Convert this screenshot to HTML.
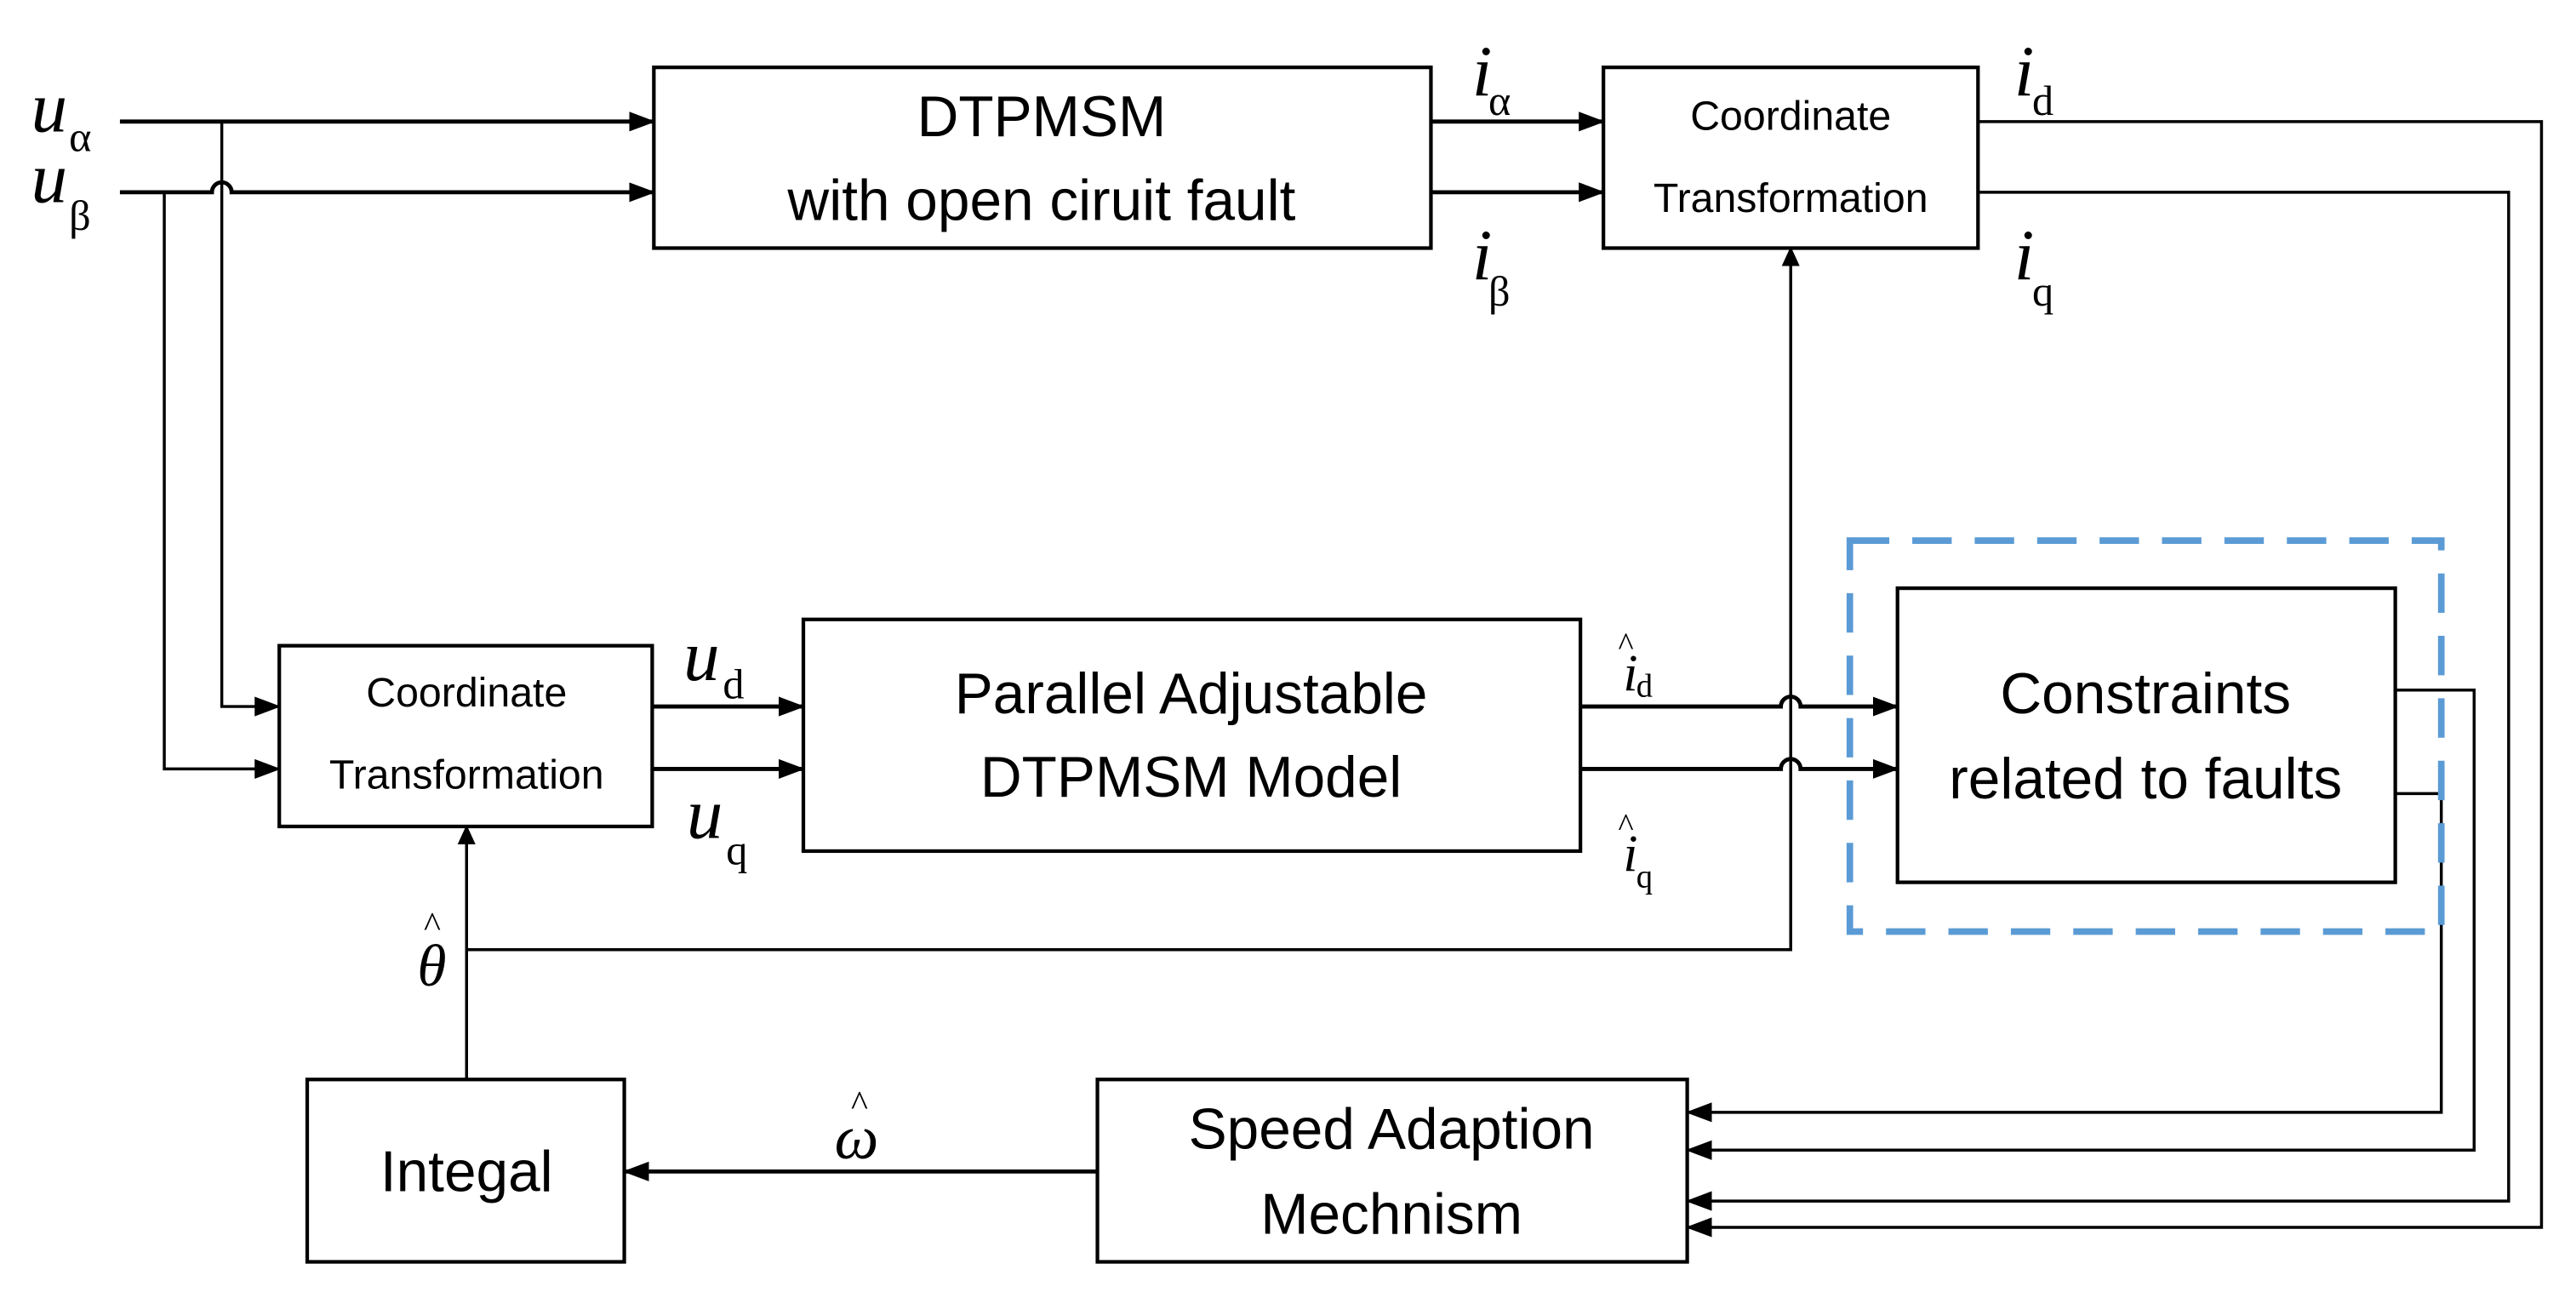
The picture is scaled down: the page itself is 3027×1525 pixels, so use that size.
<!DOCTYPE html>
<html><head><meta charset="utf-8"><style>
html,body{margin:0;padding:0;background:#fff;}
svg{display:block;}
.t{font-family:"Liberation Sans",sans-serif;fill:#000;text-anchor:middle;}
.m{font-family:"Liberation Serif",serif;font-style:italic;fill:#000;}
.s{font-family:"Liberation Serif",serif;fill:#000;}
</style></head><body>
<svg width="3027" height="1525" viewBox="0 0 1568 790" preserveAspectRatio="none" xmlns="http://www.w3.org/2000/svg">
<defs>
<marker id="a" markerWidth="16" markerHeight="14" refX="15" refY="7" orient="auto" markerUnits="userSpaceOnUse">
<path d="M0,1 L16,7 L0,13 z" fill="#000"/></marker>
<marker id="b" markerWidth="12" markerHeight="12" refX="11" refY="6" orient="auto" markerUnits="userSpaceOnUse">
<path d="M0,0.5 L12,6 L0,11.5 z" fill="#000"/></marker>
</defs>
<g fill="none" stroke="#000" stroke-width="2.2">
<rect x="398" y="41" width="473" height="110"/>
<rect x="976" y="41" width="228" height="110"/>
<rect x="170" y="393" width="227" height="110"/>
<rect x="489" y="377" width="473" height="141"/>
<rect x="1155" y="358" width="303" height="179"/>
<rect x="668" y="657" width="359" height="111"/>
<rect x="187" y="657" width="193" height="111"/>
</g>
<g fill="none" stroke="#000" stroke-width="2.5">
<path d="M73,74 H398" marker-end="url(#a)"/>
<path d="M73,117 H129 A6,6 0 0 1 141,117 H398" marker-end="url(#a)"/>
<path d="M871,74 H976" marker-end="url(#a)"/>
<path d="M871,117 H976" marker-end="url(#a)"/>
<path d="M397,430 H489" marker-end="url(#a)"/>
<path d="M397,468 H489" marker-end="url(#a)"/>
<path d="M962,430 H1084 A6,6 0 0 1 1096,430 H1155" marker-end="url(#a)"/>
<path d="M962,468 H1084 A6,6 0 0 1 1096,468 H1155" marker-end="url(#a)"/>
<path d="M668,713 H380" marker-end="url(#a)"/>
</g>
<g fill="none" stroke="#000" stroke-width="1.8">
<path d="M135,74 V430 H170" marker-end="url(#a)"/>
<path d="M100,117 V468 H170" marker-end="url(#a)"/>
<path d="M1204,74 H1547 V747 H1027" marker-end="url(#a)"/>
<path d="M1204,117 H1527 V731 H1027" marker-end="url(#a)"/>
<path d="M284,578 H1090 V151" marker-end="url(#b)"/>
<path d="M284,657 V503" marker-end="url(#b)"/>
<path d="M1458,420 H1506 V700 H1027" marker-end="url(#a)"/>
<path d="M1458,483 H1486 V677 H1027" marker-end="url(#a)"/>
</g>
<rect x="1126" y="329" width="360" height="238" fill="none" stroke="#5B9BD5" stroke-width="4" stroke-dasharray="24,14"/>
<g class="t" font-size="35">
<text x="634" y="83">DTPMSM</text>
<text x="634" y="134">with open ciruit fault</text>
<text x="725" y="434">Parallel Adjustable</text>
<text x="725" y="485">DTPMSM Model</text>
<text x="1306" y="434">Constraints</text>
<text x="1306" y="486">related to faults</text>
<text x="847" y="699">Speed Adaption</text>
<text x="847" y="751">Mechnism</text>
<text x="284" y="725">Integal</text>
</g>
<g class="t" font-size="25">
<text x="1090" y="79">Coordinate</text>
<text x="1090" y="129">Transformation</text>
<text x="284" y="430">Coordinate</text>
<text x="284" y="480">Transformation</text>
</g>
<g font-size="44">
<text class="m" x="19" y="80">u</text><text class="s" x="42" y="92" font-size="26">α</text>
<text class="m" x="19" y="123">u</text><text class="s" x="42" y="140" font-size="26">β</text>
<text class="m" x="896" y="58">i</text><text class="s" x="906" y="70" font-size="26">α</text>
<text class="m" x="896" y="170">i</text><text class="s" x="906" y="186" font-size="26">β</text>
<text class="m" x="1226" y="58">i</text><text class="s" x="1237" y="70" font-size="26">d</text>
<text class="m" x="1226" y="170">i</text><text class="s" x="1237" y="186" font-size="26">q</text>
<text class="m" x="416" y="414">u</text><text class="s" x="440" y="425" font-size="26">d</text>
<text class="m" x="418" y="510">u</text><text class="s" x="442" y="526" font-size="26">q</text>
</g>
<g font-size="32">
<text class="m" x="988" y="420">i</text><text class="s" x="985" y="399" font-size="20">^</text><text class="s" x="996" y="424" font-size="20">d</text>
<text class="m" x="988" y="530">i</text><text class="s" x="985" y="509" font-size="20">^</text><text class="s" x="996" y="540" font-size="20">q</text>
<text class="m" x="254" y="600" font-size="36">θ</text><text class="s" x="258" y="570" font-size="22">^</text>
<text class="m" x="508" y="705" font-size="38">ω</text><text class="s" x="518" y="679" font-size="22">^</text>
</g>
</svg>
</body></html>
